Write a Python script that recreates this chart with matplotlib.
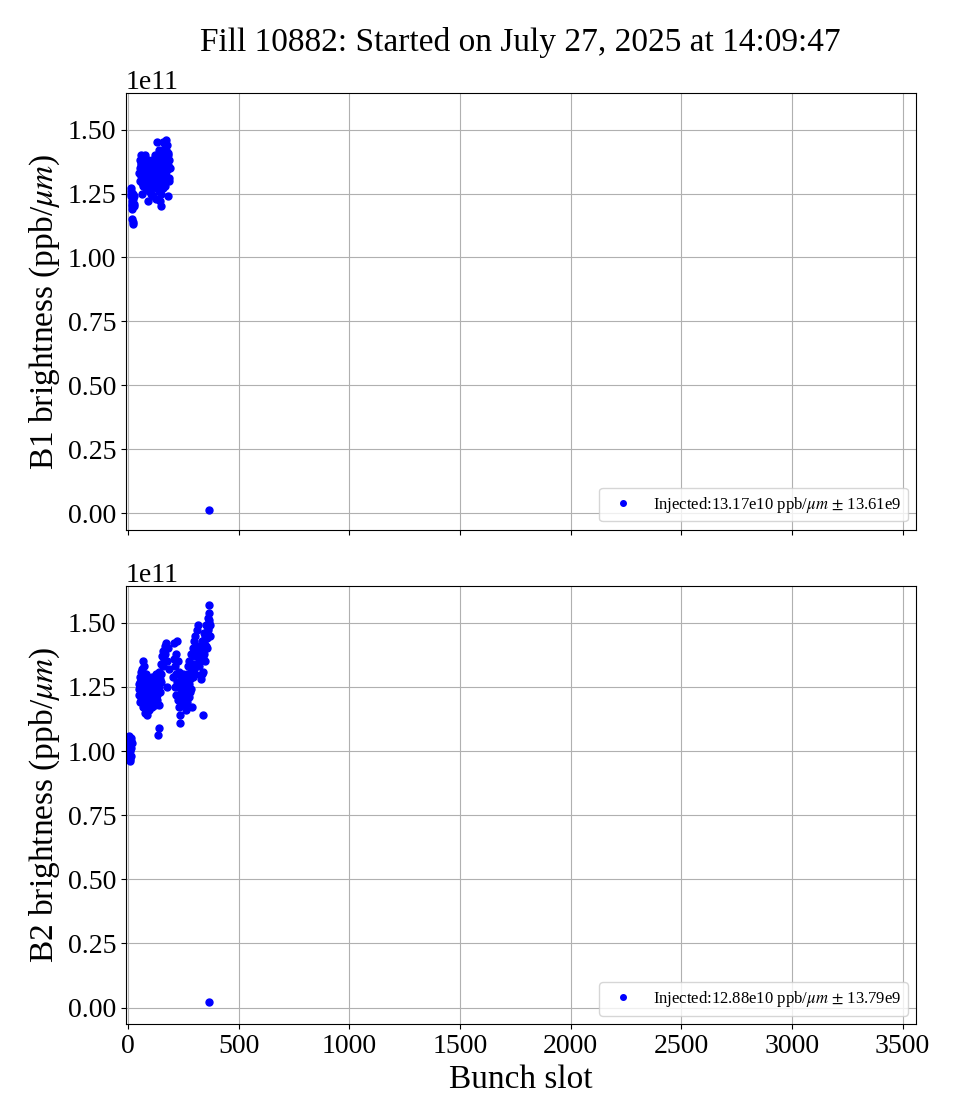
import matplotlib
matplotlib.use("Agg")
import matplotlib.pyplot as plt

plt.rcParams["font.family"] = ["Liberation Serif", "DejaVu Serif"]
plt.rcParams["mathtext.fontset"] = "stix"

TITLE = "Fill 10882: Started on July 27, 2025 at 14:09:47"

# beam 1: bunch slot and brightness (units of 1e11 ppb/um)
b1_slots = [12, 13, 14, 15, 16, 17, 18, 19, 20, 21, 22, 23, 24, 25, 26, 27,
            52, 54, 56, 58, 60, 62, 64, 66, 68, 70, 72, 74, 76, 78, 80, 82, 84, 86, 88, 90,
            53, 57, 61, 65, 69, 73, 77, 81, 85, 89,
            92, 94, 96, 98, 100, 102, 104, 106, 108, 110, 112, 114, 116, 118, 120, 122, 124,
            126, 128, 130, 132, 134, 136, 138, 140,
            93, 97, 101, 105, 109, 113, 117, 121, 125, 129, 133, 137,
            142, 144, 146, 148, 150, 152, 154, 156, 158, 160, 162, 164, 166, 168, 170, 172,
            174, 176, 178, 180, 182, 184, 186, 188,
            143, 147, 151, 155, 159, 163, 167, 171, 175, 179, 183, 187,
            368]
b1_vals = [1.27, 1.25, 1.26, 1.24, 1.22, 1.20, 1.21, 1.19, 1.15, 1.14, 1.13, 1.23, 1.25, 1.21, 1.24, 1.20,
           1.33, 1.38, 1.30, 1.36, 1.40, 1.29, 1.25, 1.34, 1.39, 1.31, 1.37, 1.28, 1.35, 1.40, 1.32, 1.27, 1.36, 1.33, 1.30, 1.38,
           1.35, 1.32, 1.37, 1.31, 1.28, 1.34, 1.30, 1.36, 1.29, 1.34,
           1.22, 1.26, 1.31, 1.34, 1.28, 1.36, 1.30, 1.25, 1.33, 1.38, 1.29, 1.24, 1.32, 1.35, 1.27, 1.40, 1.31,
           1.23, 1.36, 1.45, 1.33, 1.28, 1.38, 1.26, 1.42,
           1.30, 1.27, 1.33, 1.29, 1.31, 1.35, 1.28, 1.33, 1.30, 1.34, 1.31, 1.30,
           1.35, 1.22, 1.31, 1.20, 1.29, 1.36, 1.40, 1.33, 1.27, 1.45, 1.38, 1.30, 1.43, 1.35, 1.46, 1.39,
           1.32, 1.44, 1.37, 1.24, 1.41, 1.31, 1.38, 1.35,
           1.30, 1.34, 1.25, 1.37, 1.32, 1.41, 1.28, 1.42, 1.34, 1.40, 1.36, 1.30,
           0.013]

# beam 2
b2_slots = [2, 3, 4, 5, 6, 7, 8, 9, 10, 11, 12, 13, 14, 15, 16,
            50, 52, 54, 56, 58, 60, 62, 64, 66, 68, 70, 72, 74, 76, 78, 80, 82, 84, 86, 88,
            90, 92, 94, 96, 98, 100, 102, 104, 106, 108, 110, 112, 114, 116, 118, 120, 122, 124, 126, 128,
            51, 55, 59, 63, 67, 71, 75, 79, 83, 87, 91, 95, 99, 103, 107, 111,
            130, 133, 136, 139, 142, 145, 148, 151, 154, 157, 160, 163, 166, 169, 172, 175, 178, 181, 184,
            132, 138, 144, 150, 137, 140,
            205, 207, 209, 211, 213, 215, 217, 219, 221, 223, 225, 227, 229, 231, 233, 235, 237, 239,
            241, 243, 245, 247, 249,
            251, 254, 257, 260, 263, 266, 269, 272, 275, 278, 281, 284, 287, 290, 293, 296, 299, 302,
            305, 308, 311, 314, 317, 320,
            255, 262, 268, 274, 280, 286, 292, 298, 304, 310, 316,
            322, 325, 328, 331, 334, 337, 340, 342, 345, 348, 351, 354, 357, 360, 362, 364, 366, 368,
            370, 372,
            327, 333, 339, 344, 350, 356, 361, 367,
            368]
b2_vals = [1.05, 1.03, 1.06, 1.01, 0.99, 1.04, 0.97, 0.96, 1.02, 1.00, 1.05, 0.98, 1.04, 1.01, 1.03,
           1.26, 1.22, 1.29, 1.19, 1.25, 1.31, 1.21, 1.27, 1.35, 1.17, 1.24, 1.33, 1.20, 1.28, 1.15, 1.23, 1.30, 1.18, 1.26, 1.14,
           1.22, 1.19, 1.25, 1.16, 1.21, 1.27, 1.18, 1.24, 1.20, 1.29, 1.17, 1.23, 1.19, 1.26, 1.21, 1.28, 1.18, 1.25, 1.22, 1.30,
           1.24, 1.27, 1.20, 1.32, 1.23, 1.18, 1.26, 1.21, 1.24, 1.19, 1.27, 1.23, 1.17, 1.22, 1.25, 1.21,
           1.22, 1.26, 1.29, 1.25, 1.31, 1.28, 1.34, 1.30, 1.37, 1.33, 1.39, 1.36, 1.41, 1.38, 1.42, 1.35, 1.25, 1.40, 1.32,
           1.20, 1.18, 1.23, 1.27, 1.063, 1.089,
           1.29, 1.36, 1.42, 1.25, 1.33, 1.38, 1.22, 1.30, 1.43, 1.27, 1.35, 1.20, 1.31, 1.17, 1.26, 1.14, 1.11, 1.23,
           1.28, 1.19, 1.25, 1.30, 1.22,
           1.20, 1.24, 1.18, 1.27, 1.22, 1.30, 1.25, 1.33, 1.21, 1.35, 1.28, 1.38, 1.31, 1.17, 1.40, 1.34, 1.43, 1.37,
           1.45, 1.39, 1.47, 1.41, 1.49, 1.36,
           1.28, 1.16, 1.19, 1.26, 1.23, 1.24, 1.29, 1.32, 1.30, 1.34, 1.38,
           1.33, 1.40, 1.28, 1.36, 1.43, 1.31, 1.14, 1.38, 1.46, 1.35, 1.41, 1.49, 1.44, 1.52, 1.47, 1.57, 1.51, 1.54,
           1.49, 1.45,
           1.35, 1.30, 1.37, 1.42, 1.45, 1.40, 1.48, 1.50,
           0.02]

b1_label = r"Injected:13.17e10 ppb/$\mu m$ $\pm$ 13.61e9"
b2_label = r"Injected:12.88e10 ppb/$\mu m$ $\pm$ 13.79e9"

fig = plt.figure(figsize=(9.6, 11.2), dpi=100)
ax1 = fig.add_axes([0.131, 0.527, 0.823, 0.390])
ax2 = fig.add_axes([0.131, 0.0857, 0.823, 0.391], sharex=ax1)

for ax, slots, vals, lab, name in [(ax1, b1_slots, b1_vals, b1_label, "B1"),
                                    (ax2, b2_slots, b2_vals, b2_label, "B2")]:
    ax.plot(slots, [v * 1e11 for v in vals], "o", color="blue", markersize=5, label=lab)
    ax.set_ylim(-0.064e11, 1.643e11)
    ax.set_yticks([i * 0.25e11 for i in range(7)])
    ax.grid(True)
    ax.set_ylabel(name + r" brightness (ppb/$\mu m$)", fontsize=24)
    ax.tick_params(labelsize=20)
    ax.yaxis.get_offset_text().set_fontsize(20)
    ax.legend(loc="lower right", fontsize=12, markerscale=0.8)

ax1.set_xlim(-10, 3560)
ax1.tick_params(labelbottom=False)
ax2.set_xlabel("Bunch slot", fontsize=24)
fig.text(0.5425, 0.962, TITLE, ha="center", va="center", fontsize=24)

fig.savefig("out.png", dpi=100)
